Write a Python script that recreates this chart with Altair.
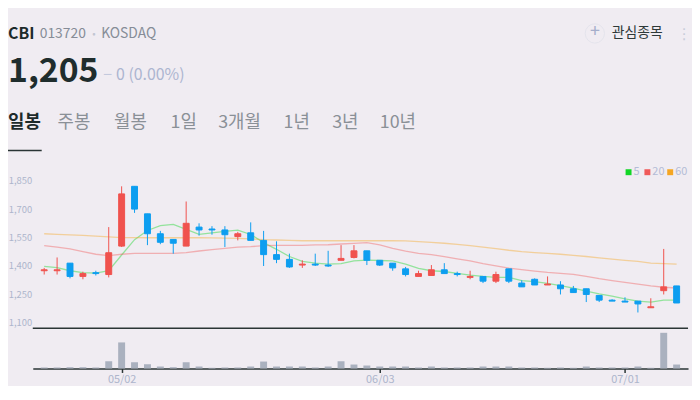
import json
import numpy as np
import pandas as pd
import altair as alt

FONT = "Noto Sans CJK KR"
BG = "#f0ecf2"
UP = "#f0524e"
DOWN = "#0d9ef0"
VOLC = "#aab1bf"
DARK = "#2a3535"
AXL = "#adb5cc"

# ---------------- data ----------------
dates = ["04/23", "04/24", "04/25", "04/26", "04/29", "04/30",
         "05/02", "05/03", "05/07", "05/08", "05/09", "05/10", "05/13", "05/14", "05/16", "05/17",
         "05/20", "05/21", "05/22", "05/23", "05/24", "05/27", "05/28", "05/29", "05/30", "05/31",
         "06/03", "06/04", "06/05", "06/07", "06/10", "06/11", "06/12", "06/13", "06/14", "06/17",
         "06/18", "06/19", "06/20", "06/21", "06/24", "06/25", "06/26", "06/27", "06/28",
         "07/01", "07/02", "07/03", "07/04", "07/05"]
tick_dates = ["05/02", "06/03", "07/01"]

opens = [1375, 1375, 1415, 1345, 1365, 1355, 1505, 1820, 1675, 1570,
         1540, 1505, 1605, 1595, 1590, 1555, 1575, 1535, 1460, 1435,
         1405, 1410, 1405, 1430, 1445, 1480, 1430, 1415, 1385, 1345,
         1350, 1380, 1360, 1340, 1345, 1320, 1385, 1310, 1330, 1300,
         1300, 1280, 1280, 1245, 1220, 1215, 1215, 1180, 1270, 1295]
highs = [1390, 1445, 1415, 1370, 1375, 1605, 1820, 1820, 1675, 1585,
         1540, 1740, 1625, 1610, 1610, 1580, 1630, 1585, 1530, 1465,
         1430, 1465, 1480, 1510, 1510, 1480, 1430, 1415, 1395, 1375,
         1405, 1415, 1370, 1375, 1345, 1370, 1385, 1325, 1335, 1345,
         1320, 1295, 1280, 1245, 1225, 1235, 1215, 1230, 1490, 1295]
lows = [1355, 1355, 1335, 1330, 1350, 1340, 1500, 1680, 1510, 1515,
        1465, 1505, 1560, 1565, 1500, 1535, 1535, 1400, 1415, 1390,
        1390, 1400, 1395, 1430, 1440, 1405, 1400, 1375, 1345, 1345,
        1350, 1360, 1345, 1330, 1310, 1310, 1310, 1290, 1300, 1300,
        1250, 1260, 1210, 1210, 1215, 1210, 1155, 1180, 1250, 1205]
closes = [1380, 1380, 1345, 1360, 1360, 1470, 1780, 1700, 1570, 1525,
          1520, 1625, 1590, 1590, 1565, 1570, 1535, 1460, 1435, 1395,
          1410, 1405, 1400, 1440, 1480, 1430, 1405, 1390, 1355, 1360,
          1380, 1360, 1355, 1345, 1320, 1355, 1320, 1290, 1300, 1305,
          1280, 1260, 1250, 1220, 1215, 1210, 1200, 1185, 1290, 1205]
volumes = [100000, 100000, 130000, 130000, 100000, 730000, 2630000, 630000, 430000, 200000,
           130000, 630000, 200000, 70000, 100000, 100000, 200000, 700000, 200000, 200000,
           200000, 100000, 200000, 730000, 400000, 300000, 200000, 200000, 200000, 100000,
           200000, 100000, 100000, 100000, 200000, 200000, 200000, 100000, 100000, 70000,
           100000, 70000, 200000, 100000, 100000, 100000, 200000, 70000, 3600000, 400000]

ma5 = [1398, 1392, 1375, 1365, 1363, 1375, 1458, 1539, 1587, 1613,
       1619, 1593, 1567, 1575, 1582, 1589, 1566, 1523, 1488, 1450,
       1424, 1415, 1410, 1413, 1427, 1431, 1429, 1427, 1410, 1387,
       1375, 1371, 1361, 1352, 1345, 1340, 1340, 1323, 1318, 1309,
       1297, 1283, 1267, 1253, 1241, 1227, 1215, 1210, 1220, 1220]
ma20 = [1507, 1500, 1490, 1476, 1462, 1455, 1462, 1466, 1466, 1466,
        1467, 1471, 1479, 1486, 1493, 1499, 1502, 1507, 1509, 1509,
        1509, 1511, 1512, 1516, 1519, 1523, 1511, 1493, 1478, 1466,
        1460, 1450, 1438, 1427, 1413, 1401, 1389, 1381, 1373, 1366,
        1361, 1356, 1345, 1333, 1323, 1314, 1304, 1295, 1288, 1284]
ma60 = [1570, 1567, 1564, 1561, 1557, 1553, 1550, 1549, 1549, 1549,
        1549, 1549, 1549, 1548, 1547, 1546, 1543, 1539, 1537, 1535,
        1533, 1533, 1533, 1533, 1533, 1533, 1533, 1533, 1532, 1528,
        1525, 1520, 1514, 1507, 1500, 1492, 1483, 1476, 1471, 1467,
        1462, 1456, 1450, 1443, 1436, 1430, 1424, 1415, 1413, 1410]

price_ticks = [1100, 1250, 1400, 1550, 1700, 1850]
ma_names = ["5", "20", "60"]
ma_colors = ["#12d626", "#f05a5a", "#f5a623"]
tabs = ["일봉", "주봉", "월봉", "1일", "3개월", "1년", "3년", "10년"]

# ---------------- tables ----------------
idx = list(range(len(dates)))
df = pd.DataFrame({"idx": idx, "date": dates, "open": opens, "high": highs,
                   "low": lows, "close": closes, "vol": volumes})
df["dir"] = np.where(df["close"] >= df["open"], "up", "down")

ma_df = pd.concat([
    pd.DataFrame({"idx": idx, "value": ma5, "ma": "5"}),
    pd.DataFrame({"idx": idx, "value": ma20, "ma": "20"}),
    pd.DataFrame({"idx": idx, "value": ma60, "ma": "60"}),
])

# layout: plot area on the page spans x 33..694, y 160..370
OX, OY = 33, 160
W, H = 661, 210
PRICE_H = 169

xaxis = alt.Axis(values=[dates.index(d) for d in tick_dates],
                 labelExpr=json.dumps(dates) + "[datum.value]",
                 title=None, grid=False, domainColor=DARK, domainWidth=1.5,
                 tickColor=DARK, tickSize=4, tickWidth=1.5, labelColor=AXL,
                 labelFontSize=11, labelFont=FONT, labelPadding=1)
xenc = alt.X("idx:Q", scale=alt.Scale(domain=[-0.5, len(dates) - 0.5], nice=False, zero=False),
             axis=xaxis)

yaxis = alt.Axis(values=price_ticks, labelExpr="format(datum.value, ',')", title=None,
                 grid=False, domain=False, ticks=False, labelColor=AXL, labelFontSize=9.5,
                 labelFont=FONT, labelPadding=1, labelAlign="right")
pscale = alt.Scale(domain=[1074, 1957], range=[PRICE_H, 0], nice=False, zero=False)
dir_scale = alt.Scale(domain=["up", "down"], range=[UP, DOWN])

base = alt.Chart(df)

wicks = base.mark_rule(strokeWidth=1).encode(
    x=xenc,
    y=alt.Y("low:Q", scale=pscale, axis=yaxis),
    y2="high:Q",
    color=alt.Color("dir:N", scale=dir_scale, legend=None),
)
bodies = base.mark_bar(size=6, strokeWidth=1).encode(
    x=xenc,
    y=alt.Y("open:Q", scale=pscale, axis=yaxis),
    y2="close:Q",
    color=alt.Color("dir:N", scale=dir_scale, legend=None),
    stroke=alt.Stroke("dir:N", scale=dir_scale, legend=None),
)
lines = alt.Chart(ma_df).mark_line(strokeWidth=1.3, opacity=0.42).encode(
    x=xenc,
    y=alt.Y("value:Q", scale=pscale, axis=yaxis),
    color=alt.Color("ma:N", scale=alt.Scale(domain=ma_names, range=ma_colors), legend=None),
    detail="ma:N",
)
price = alt.layer(lines, wicks, bodies).resolve_scale(color="independent", stroke="independent")

volume = base.mark_bar(size=7, color=VOLC).encode(
    x=xenc,
    y=alt.Y("vol:Q", scale=alt.Scale(domain=[0, 4070000], range=[H, PRICE_H + 0.3]), axis=None),
)

one = pd.DataFrame({"a": [0]})


def txt(s, sx, sy, size, color, weight="normal", align="left", font=FONT):
    # sx, sy: page position of the text anchor
    return alt.Chart(one).mark_text(text=s, fontSize=size, color=color, fontWeight=weight,
                                    align=align, baseline="middle", font=font).encode(
        x=alt.value(sx - OX), y=alt.value(sy - OY))


sep = alt.Chart(one).mark_rule(color=DARK, strokeWidth=1.5).encode(
    x=alt.value(0), x2=alt.value(W), y=alt.value(PRICE_H + 0.3))

layers = [price, volume, sep]

# legend
for name, col, sx in zip(ma_names, ma_colors, [634, 653, 676]):
    layers.append(alt.Chart(one).mark_square(size=36, color=col, opacity=1).encode(
        x=alt.value(sx - OX), y=alt.value(172 - OY)))
    layers.append(txt(name, sx + 5, 172, 11, "#b4bcd6"))

# header
layers += [
    txt("CBI", 8, 33, 16, "#1d2a2a", "bold"),
    txt("013720", 40, 33, 14, "#868c97"),
    txt("•", 93, 33, 10, "#c2c6d2"),
    txt("KOSDAQ", 102, 33, 14, "#868c97"),
    txt("1,205", 8, 71, 34, "#1f2d2d", "bold"),
    txt("−", 104, 74, 16, "#c3c9dd"),
    txt("0 (0.00%)", 117, 74, 16, "#acb5d0"),
    txt("관심종목", 617, 32, 14, "#2e3939"),
    txt("+", 600, 31, 18, "#a5aecb", align="center"),
    txt("⋮", 690, 33, 15, "#c9cdda", align="center", font="DejaVu Sans"),
]
layers.append(alt.Chart(one).mark_point(shape="circle", size=380, filled=False,
                                        color="#e0e1ea", strokeWidth=1).encode(
    x=alt.value(600 - OX), y=alt.value(32 - OY)))

for i, (t, sx) in enumerate(zip(tabs, [8, 58, 115, 172, 220, 286, 335, 383])):
    if i == 0:
        layers.append(txt(t, sx, 122, 18, "#1d2a2a", "bold"))
    else:
        layers.append(txt(t, sx, 122, 18, "#8a9097"))
layers.append(alt.Chart(one).mark_rule(color=DARK, strokeWidth=1.5).encode(
    x=alt.value(8 - OX), x2=alt.value(42 - OX), y=alt.value(150 - OY)))

chart = alt.layer(*layers).resolve_scale(y="independent").properties(
    width=W, height=H,
    autosize=alt.AutoSizeParams(type="none"),
    padding={"left": OX - 8, "top": OY - 8, "right": 4, "bottom": 16},
    background=BG,
).configure_view(stroke=None)

chart.save("out.html", embed_options={"renderer": "svg", "actions": False})
